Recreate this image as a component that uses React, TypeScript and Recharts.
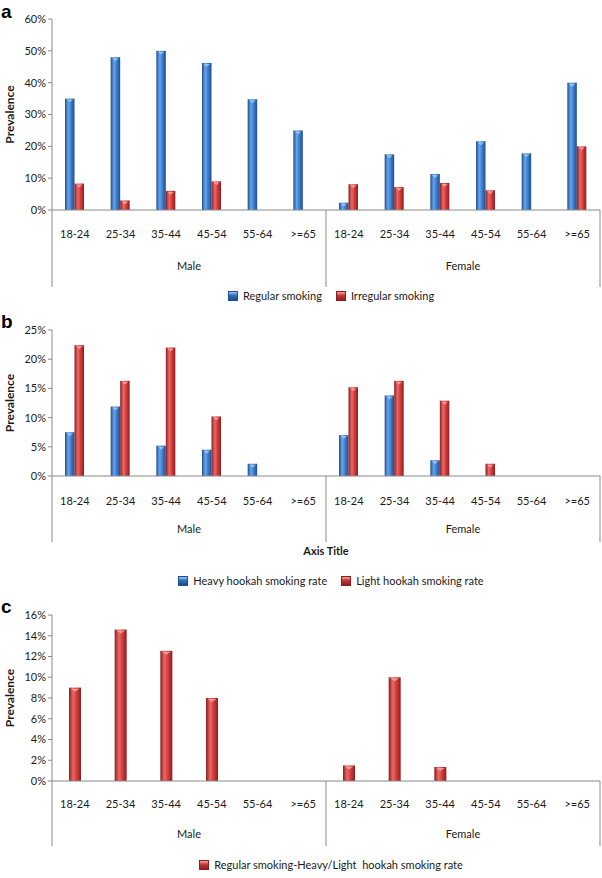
import React from 'react';
import { BarChart, Bar, XAxis, YAxis, Legend, Label } from 'recharts';

// categories
const ageGroups = ['18-24', '25-34', '35-44', '45-54', '55-64', '>=65'];
const sexes = ['Male', 'Female'];

// panel a
const regularSmoking = [35, 48, 50, 46.2, 34.8, 25, 2.3, 17.5, 11.3, 21.6, 17.8, 40];
const irregularSmoking = [8.3, 3, 6, 9, 0, 0, 8.1, 7.2, 8.5, 6.2, 0, 20];

// panel b
const heavyHookah = [7.5, 11.9, 5.2, 4.5, 2.1, 0, 7.0, 13.8, 2.7, 0, 0, 0];
const lightHookah = [22.4, 16.3, 22.0, 10.2, 0, 0, 15.2, 16.3, 12.9, 2.1, 0, 0];

// panel c
const regularMinusHookah = [9, 14.6, 12.55, 8, 0, 0, 1.5, 10, 1.35, 0, 0, 0];

const ticksA = [0, 10, 20, 30, 40, 50, 60];
const ticksB = [0, 5, 10, 15, 20, 25];
const ticksC = [0, 2, 4, 6, 8, 10, 12, 14, 16];

const rows = sexes.flatMap((sex) => ageGroups.map((age) => ({ sex, age })));
const build = (series: Record<string, number[]>) =>
    rows.map((r, i) => {
        const row: any = { ...r };
        Object.keys(series).forEach((k) => (row[k] = series[k][i]));
        return row;
    });

const dataA = build({ regular: regularSmoking, irregular: irregularSmoking });
const dataB = build({ heavy: heavyHookah, light: lightHookah });
const dataC = build({ diff: regularMinusHookah });

const FONT = 'Lato, "Open Sans", sans-serif';
const AXIS = '#8a8a8a';
const TEXT = '#1a1a1a';
const W = 602;

const COLORS = {
    blue: { dark: '#1f4f8e', mid: '#3f82d4', light: '#6aa4e8', cap: '#9cc8f4', icon: '#2f6bbb' },
    red: { dark: '#8e1d20', mid: '#d8403f', light: '#e86a66', cap: '#f5a3a0', icon: '#c0353a' },
};

const Gradients = ({ id }: { id: string }) => (
    <defs>
        {(['blue', 'red'] as const).map((c) => (
            <linearGradient key={c} id={`${id}-${c}`} x1="0" y1="0" x2="1" y2="0">
                <stop offset="0%" stopColor={COLORS[c].dark} />
                <stop offset="35%" stopColor={COLORS[c].light} />
                <stop offset="60%" stopColor={COLORS[c].mid} />
                <stop offset="100%" stopColor={COLORS[c].dark} />
            </linearGradient>
        ))}
    </defs>
);

const CylBar = (props: any) => {
    const { x, y, width, height, grad, cap } = props;
    if (!height || height <= 0.5) return null;
    return (
        <g>
            <rect x={x} y={y} width={width} height={height} fill={`url(#${grad})`} />
            <path
                d={`M${x + 1.5},${y + 1} L${x + width - 1.5},${y + 1} L${x + width / 2},${y + 4} Z`}
                fill={cap}
                opacity={0.85}
            />
        </g>
    );
};

// group axis tick: Male / Female label plus the divider lines
const GroupTick = (props: any) => {
    const { x, y, payload, index, up, down, labelDy, total } = props;
    const half = payload?.offset ?? 137;
    const left = x - half;
    const right = x + half;
    return (
        <g>
            <line x1={left} y1={y - up} x2={left} y2={y + down} stroke={AXIS} />
            {index === total - 1 && <line x1={right} y1={y - up} x2={right} y2={y + down} stroke={AXIS} />}
            <text x={x} y={y + labelDy} textAnchor="middle" dominantBaseline="central" fontSize={11} fill={TEXT} fontFamily={FONT}>
                {payload.value}
            </text>
        </g>
    );
};

const AgeTick = (props: any) => {
    const { x, y, payload, labelDy } = props;
    return (
        <text x={x} y={y + labelDy} textAnchor="middle" dominantBaseline="central" fontSize={11} fill={TEXT} fontFamily={FONT}>
            {payload.value}
        </text>
    );
};

const YLabel = (props: any) => {
    const { viewBox } = props;
    const cy = viewBox.y + viewBox.height / 2;
    return (
        <text
            x={9}
            y={cy}
            transform={`rotate(-90, 9, ${cy})`}
            textAnchor="middle"
            dominantBaseline="central"
            fontSize={12}
            fontWeight="bold"
            fill={TEXT}
            fontFamily={FONT}
        >
            Prevalence
        </text>
    );
};

const LegendBox = ({ items }: { items: { name: string; color: 'blue' | 'red' }[] }) => (
    <div style={{ display: 'flex', justifyContent: 'center', gap: 14, fontFamily: FONT, fontSize: 11, color: TEXT }}>
        {items.map((it) => (
            <div key={it.name} style={{ display: 'flex', alignItems: 'center', gap: 5 }}>
                <span
                    style={{
                        width: 8,
                        height: 8,
                        display: 'inline-block',
                        background: `linear-gradient(180deg, ${COLORS[it.color].cap} 0%, ${COLORS[it.color].icon} 45%, ${COLORS[it.color].dark} 100%)`,
                        border: `1px solid ${COLORS[it.color].dark}`,
                    }}
                />
                <span style={{ whiteSpace: 'pre' }}>{it.name}</span>
            </div>
        ))}
    </div>
);

interface PanelProps {
    id: string;
    letter: string;
    top: number;
    height: number;
    marginTop: number;
    ageAxisHeight: number;
    ageDy: number;
    groupAxisHeight: number;
    groupDy: number;
    dividerDown: number;
    legendTop: number;
    data: any[];
    ticks: number[];
    series: { key: string; name: string; color: 'blue' | 'red' }[];
    barSize: number;
    axisTitle?: string;
}

const Chart: React.FC<PanelProps> = (p) => {
    const max = p.ticks[p.ticks.length - 1];
    return (
        <div style={{ position: 'absolute', left: 0, top: p.top, width: W, height: p.height }}>
            <div style={{ position: 'absolute', left: 1, top: 2, lineHeight: '20px', fontFamily: 'Arial, "Liberation Sans", sans-serif', fontWeight: 'bold', fontSize: 19, color: '#000' }}>
                {p.letter}
            </div>
            <BarChart
                width={W}
                height={p.height}
                data={p.data}
                margin={{ top: p.marginTop, right: 2, left: 0, bottom: 0 }}
                barGap={0}
                barSize={p.barSize}
            >
                <Gradients id={p.id} />
                <YAxis
                    type="number"
                    domain={[0, max]}
                    ticks={p.ticks}
                    interval={0}
                    width={52}
                    tickFormatter={(v) => `${v}%`}
                    tick={{ fontSize: 11, fill: TEXT, fontFamily: FONT }}
                    axisLine={{ stroke: AXIS }}
                    tickLine={{ stroke: AXIS }}
                    tickSize={4}
                    tickMargin={2}
                >
                    <Label content={<YLabel />} />
                </YAxis>
                <XAxis
                    dataKey="age"
                    interval={0}
                    height={p.ageAxisHeight}
                    axisLine={{ stroke: AXIS }}
                    tickLine={false}
                    tickSize={0}
                    tickMargin={0}
                    tick={<AgeTick labelDy={p.ageDy} />}
                />
                <XAxis
                    xAxisId="sex"
                    dataKey="sex"
                    allowDuplicatedCategory={false}
                    interval={0}
                    height={p.groupAxisHeight}
                    axisLine={false}
                    tickLine={false}
                    tickSize={0}
                    tickMargin={0}
                    tick={<GroupTick up={p.ageAxisHeight} down={p.dividerDown} labelDy={p.groupDy} total={sexes.length} />}
                >
                    {p.axisTitle && (
                        <Label
                            value={p.axisTitle}
                            position="insideTop"
                            offset={p.dividerDown + 5}
                            style={{ fontSize: 11, fontWeight: 'bold', fill: TEXT, fontFamily: FONT }}
                        />
                    )}
                </XAxis>
                <Legend
                    verticalAlign="middle"
                    align="center"
                    layout="horizontal"
                    wrapperStyle={{ top: p.legendTop, left: 62, width: 538 }}
                    content={() => <LegendBox items={p.series} />}
                />
                {p.series.map((s) => (
                    <Bar
                        key={s.key}
                        dataKey={s.key}
                        name={s.name}
                        fill={COLORS[s.color].icon}
                        isAnimationActive={false}
                        shape={(bp: any) => <CylBar {...bp} grad={`${p.id}-${s.color}`} cap={COLORS[s.color].cap} />}
                    />
                ))}
            </BarChart>
        </div>
    );
};

export default function App() {
    return (
        <div style={{ position: 'absolute', left: 0, top: 0, width: W, height: 878, background: '#fff', overflow: 'hidden' }}>
            <Chart
                id="a"
                letter="a"
                top={0}
                height={310}
                marginTop={19}
                ageAxisHeight={40}
                ageDy={23}
                groupAxisHeight={60}
                groupDy={15}
                dividerDown={37}
                legendTop={289}
                data={dataA}
                ticks={ticksA}
                series={[
                    { key: 'regular', name: 'Regular smoking', color: 'blue' },
                    { key: 'irregular', name: 'Irregular smoking', color: 'red' },
                ]}
                barSize={9.5}
            />
            <Chart
                id="b"
                letter="b"
                top={310}
                height={285}
                marginTop={20}
                ageAxisHeight={38}
                ageDy={24}
                groupAxisHeight={81}
                groupDy={14}
                dividerDown={28}
                legendTop={264}
                data={dataB}
                ticks={ticksB}
                series={[
                    { key: 'heavy', name: 'Heavy hookah smoking rate', color: 'blue' },
                    { key: 'light', name: 'Light hookah smoking rate', color: 'red' },
                ]}
                barSize={9.5}
                axisTitle="Axis Title"
            />
            <Chart
                id="c"
                letter="c"
                top={595}
                height={283}
                marginTop={20}
                ageAxisHeight={40}
                ageDy={22}
                groupAxisHeight={57}
                groupDy={12}
                dividerDown={25}
                legendTop={263}
                data={dataC}
                ticks={ticksC}
                series={[{ key: 'diff', name: 'Regular smoking-Heavy/Light  hookah smoking rate', color: 'red' }]}
                barSize={12}
            />
        </div>
    );
}
